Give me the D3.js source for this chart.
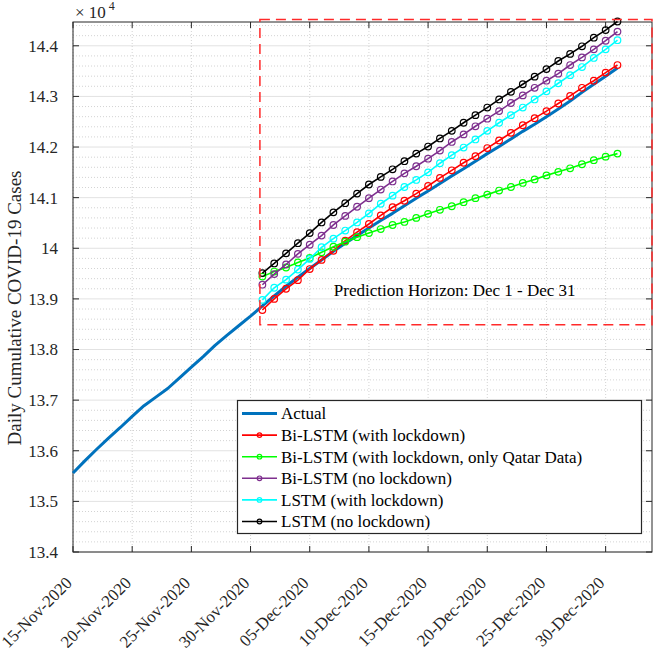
<!DOCTYPE html>
<html>
<head>
<meta charset="utf-8">
<script src="https://cdn.jsdelivr.net/npm/d3@7/dist/d3.min.js"></script>
<style>
  html, body { margin: 0; padding: 0; background: #fff; }
  svg { display: block; }
</style>
</head>
<body>
<svg id="chart" width="654" height="648"></svg>
<script>
// ---------------- DATA ----------------
const actualStart = "2020-11-15";
// Actual daily cumulative cases, 15-Nov-2020 .. 31-Dec-2020
const actualValues = [
  135560, 135800, 136030, 136250, 136460, 136680, 136890, 137060, 137230, 137440,
  137650, 137860, 138080, 138280, 138470, 138660,
  138860, 139060, 139250, 139430, 139600, 139770, 139940, 140100, 140250, 140400,
  140550, 140690, 140840, 140990, 141130, 141280, 141430, 141570, 141720, 141870,
  142010, 142160, 142310, 142450, 142600, 142750, 142910, 143080, 143240, 143400, 143560
];
const predStart = "2020-12-01";
// Predictions, 01-Dec-2020 .. 31-Dec-2020
const biLstmLockdown = [
  138780, 139000, 139200, 139370, 139590, 139770, 139950, 140150, 140320, 140480,
  140650, 140810, 140940, 141080, 141230, 141390, 141540, 141690, 141820, 141980,
  142130, 142280, 142430, 142570, 142710, 142860, 143010, 143170, 143310, 143470, 143620
];
const biLstmQatar = [
  139440, 139540, 139620, 139720, 139810, 139920, 140030, 140130, 140220, 140300,
  140380, 140460, 140520, 140600, 140680, 140760, 140830, 140910, 140990, 141060,
  141140, 141210, 141290, 141360, 141440, 141510, 141580, 141660, 141740, 141810, 141870
];
const biLstmNoLockdown = [
  139280, 139490, 139680, 139890, 140070, 140250, 140460, 140640, 140820, 140990,
  141160, 141320, 141480, 141620, 141770, 141930, 142100, 142250, 142410, 142560,
  142710, 142870, 143020, 143170, 143310, 143450, 143620, 143770, 143930, 144100, 144280
];
const lstmLockdown = [
  138980, 139220, 139380, 139580, 139790, 140020, 140190, 140350, 140510, 140690,
  140880, 141040, 141210, 141350, 141500, 141680, 141840, 141990, 142150, 142320,
  142480, 142630, 142780, 142940, 143100, 143260, 143420, 143580, 143760, 143930, 144110
];
const lstmNoLockdown = [
  139510, 139700, 139900, 140100, 140300, 140510, 140710, 140890, 141080, 141260,
  141410, 141560, 141720, 141870, 142010, 142170, 142320, 142480, 142630, 142780,
  142940, 143090, 143240, 143390, 143540, 143700, 143840, 143990, 144160, 144310, 144480
];
const seriesNames = [
  "Actual",
  "Bi-LSTM (with lockdown)",
  "Bi-LSTM (with lockdown, only Qatar Data)",
  "Bi-LSTM (no lockdown)",
  "LSTM (with lockdown)",
  "LSTM (no lockdown)"
];
const seriesColors = ["#0072BD", "#FF0000", "#00FF00", "#7E2F8E", "#00FFFF", "#000000"];
const xTickLabels = [
  "15-Nov-2020", "20-Nov-2020", "25-Nov-2020", "30-Nov-2020", "05-Dec-2020",
  "10-Dec-2020", "15-Dec-2020", "20-Dec-2020", "25-Dec-2020", "30-Dec-2020"
];
const yTickValues = [134000, 135000, 136000, 137000, 138000, 139000, 140000, 141000, 142000, 143000, 144000];
const yTickLabels = ["13.4", "13.5", "13.6", "13.7", "13.8", "13.9", "14", "14.1", "14.2", "14.3", "14.4"];
const annotationText = "Prediction Horizon: Dec 1 - Dec 31";

// ---------------- SETUP ----------------
const svg = d3.select("#chart");
const L = 73, R = 652, T = 22, B = 552;
const parse = d3.utcParse("%Y-%m-%d");
const parseTick = d3.utcParse("%d-%b-%Y");
const day0 = parse(actualStart);
const xEnd = d3.utcHour.offset(day0, Math.round(48.9 * 24));
const x = d3.scaleUtc().domain([day0, xEnd]).range([L, R]);
const y = d3.scaleLinear().domain([134000, 144470]).range([B, T]);

const actualData = actualValues.map((v, i) => ({ d: d3.utcDay.offset(day0, i), v }));
const p0 = parse(predStart);
const toSeries = arr => arr.map((v, i) => ({ d: d3.utcDay.offset(p0, i), v }));
const preds = [biLstmLockdown, biLstmQatar, biLstmNoLockdown, lstmLockdown, lstmNoLockdown].map(toSeries);

const xTickDates = xTickLabels.map(s => parseTick(s));

function txt(parent) {
  return parent.append("text").attr("font-family", "Liberation Serif").attr("fill", "#262626");
}

// ---------------- GRID ----------------
const grid = svg.append("g");
const minor = d3.range(134000, 144470, 200).filter(v => v % 1000 !== 0);
grid.selectAll(".ymin").data(minor).enter().append("line")
  .attr("x1", L).attr("x2", R).attr("y1", d => y(d)).attr("y2", d => y(d))
  .attr("stroke", "#c8c8c8").attr("stroke-width", 0.8).attr("stroke-dasharray", "1,2");
grid.selectAll(".ymaj").data(yTickValues).enter().append("line")
  .attr("x1", L).attr("x2", R).attr("y1", d => y(d)).attr("y2", d => y(d))
  .attr("stroke", "#e2e2e2").attr("stroke-width", 1);
grid.selectAll(".xg").data(xTickDates).enter().append("line")
  .attr("x1", d => x(d)).attr("x2", d => x(d)).attr("y1", T).attr("y2", B)
  .attr("stroke", "#c8c8c8").attr("stroke-width", 0.8).attr("stroke-dasharray", "1,2");

// ---------------- AXES (box) ----------------
const ax = svg.append("g").attr("stroke", "#262626").attr("stroke-width", 1);
ax.append("rect").attr("x", L).attr("y", T).attr("width", R - L).attr("height", B - T).attr("fill", "none");
const tl = 6;
xTickDates.forEach(d => {
  ax.append("line").attr("x1", x(d)).attr("x2", x(d)).attr("y1", B).attr("y2", B - tl);
  ax.append("line").attr("x1", x(d)).attr("x2", x(d)).attr("y1", T).attr("y2", T + tl);
});
yTickValues.forEach(v => {
  ax.append("line").attr("x1", L).attr("x2", L + tl).attr("y1", y(v)).attr("y2", y(v));
  ax.append("line").attr("x1", R).attr("x2", R - tl).attr("y1", y(v)).attr("y2", y(v));
});

// tick labels
yTickValues.forEach((v, i) => {
  txt(svg).attr("x", L - 15).attr("y", y(v)).attr("dy", "0.35em")
    .attr("text-anchor", "end").attr("font-size", 17).text(yTickLabels[i]);
});
xTickDates.forEach((d, i) => {
  txt(svg)
    .attr("transform", `translate(${x(d)},${B + 32}) rotate(-45)`)
    .attr("text-anchor", "end").attr("font-size", 17).text(xTickLabels[i]);
});

// exponent label
const ex = txt(svg).attr("x", 75).attr("y", 18).attr("font-size", 17);
ex.append("tspan").text("\u00d7 10");
ex.append("tspan").attr("dx", 3).attr("dy", -8).attr("font-size", 12).text("4");

// y label
txt(svg)
  .attr("transform", `translate(21,308) rotate(-90)`)
  .attr("text-anchor", "middle").attr("font-size", 19)
  .text("Daily Cumulative COVID-19 Cases");

// ---------------- SERIES ----------------
const line = d3.line().x(d => x(d.d)).y(d => y(d.v));
svg.append("path").datum(actualData).attr("d", line)
  .attr("fill", "none").attr("stroke", seriesColors[0]).attr("stroke-width", 3)
  .attr("stroke-linejoin", "round");

preds.forEach((s, i) => {
  const c = seriesColors[i + 1];
  const g = svg.append("g");
  g.append("path").datum(s).attr("d", line)
    .attr("fill", "none").attr("stroke", c).attr("stroke-width", 1.6);
  g.selectAll("circle").data(s).enter().append("circle")
    .attr("cx", d => x(d.d)).attr("cy", d => y(d.v)).attr("r", 3.3)
    .attr("fill", "none").attr("stroke", c).attr("stroke-width", 1.2);
});

// ---------------- PREDICTION BOX ----------------
const boxX0 = d3.utcHour.offset(p0, -5);
svg.append("rect")
  .attr("x", x(boxX0)).attr("y", y(144520))
  .attr("width", x(xEnd) - x(boxX0)).attr("height", y(138490) - y(144520))
  .attr("fill", "none").attr("stroke", "#FF2A2A").attr("stroke-width", 1.5)
  .attr("stroke-dasharray", "10,6");

txt(svg)
  .attr("x", x(d3.utcHour.offset(p0, Math.round(16.26 * 24)))).attr("y", y(139060))
  .attr("text-anchor", "middle").attr("font-size", 17).attr("fill", "#000")
  .text(annotationText);

// ---------------- LEGEND ----------------
const lg = svg.append("g");
lg.append("rect").attr("x", 237.5).attr("y", 400.5).attr("width", 404).attr("height", 133)
  .attr("fill", "#fff").attr("stroke", "#262626").attr("stroke-width", 1.2);
seriesNames.forEach((name, i) => {
  const yy = 413.5 + i * 21.6;
  lg.append("line").attr("x1", 242).attr("x2", 277).attr("y1", yy).attr("y2", yy)
    .attr("stroke", seriesColors[i]).attr("stroke-width", i === 0 ? 3 : 1.6);
  if (i > 0) {
    lg.append("circle").attr("cx", 259.5).attr("cy", yy).attr("r", 2.3)
      .attr("fill", "none").attr("stroke", seriesColors[i]).attr("stroke-width", 1.2);
  }
  txt(lg).attr("x", 281).attr("y", yy).attr("dy", "0.35em")
    .attr("font-size", 17).attr("fill", "#000").text(name);
});
</script>
</body>
</html>
